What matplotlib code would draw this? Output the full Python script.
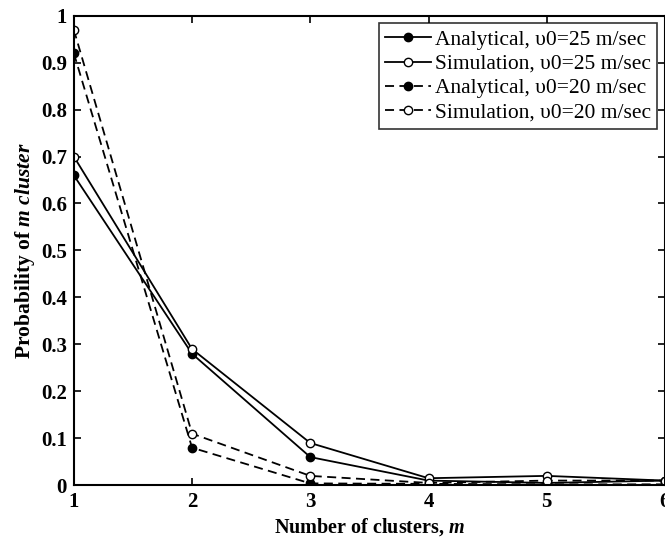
import matplotlib
matplotlib.use("Agg")
import matplotlib.pyplot as plt

plt.rcParams['font.family'] = ['Liberation Serif', 'DejaVu Serif']
plt.rcParams['mathtext.fontset'] = 'custom'
plt.rcParams['mathtext.rm'] = 'Liberation Serif:bold'
plt.rcParams['mathtext.it'] = 'Liberation Serif:italic:bold'

m = [1, 2, 3, 4, 5, 6]
analytical_25 = [0.66, 0.28, 0.06, 0.01, 0.005, 0.01]
simulation_25 = [0.70, 0.29, 0.09, 0.015, 0.02, 0.01]
analytical_20 = [0.92, 0.08, 0.004, 0.003, 0.002, 0.002]
simulation_20 = [0.97, 0.11, 0.02, 0.005, 0.01, 0.01]
labels = ["Analytical, \u03c50=25 m/sec", "Simulation, \u03c50=25 m/sec",
          "Analytical, \u03c50=20 m/sec", "Simulation, \u03c50=20 m/sec"]
xticks = [1, 2, 3, 4, 5, 6]
yticks = [0, 0.1, 0.2, 0.3, 0.4, 0.5, 0.6, 0.7, 0.8, 0.9, 1]
yticklabels = ["0", "0.1", "0.2", "0.3", "0.4", "0.5", "0.6", "0.7", "0.8", "0.9", "1"]

fig = plt.figure(figsize=(6.65, 5.38), dpi=100)
ax = fig.add_axes([0.111, 0.098, 0.889, 0.873])

ax.plot(m, analytical_25, '-', color='black', lw=1.3, marker='o', ms=6,
        mfc='black', mec='black', label=labels[0])
ax.plot(m, simulation_25, '-', color='black', lw=1.3, marker='o', ms=6,
        mfc='white', mec='black', label=labels[1])
ax.plot(m, analytical_20, '--', color='black', lw=1.3, marker='o', ms=6,
        mfc='black', mec='black', label=labels[2], dashes=(5, 3))
ax.plot(m, simulation_20, '--', color='black', lw=1.3, marker='o', ms=6,
        mfc='white', mec='black', label=labels[3], dashes=(5, 3))

ax.set_xlim(1, 6)
ax.set_ylim(0, 1)
ax.set_xticks(xticks)
ax.set_yticks(yticks)
ax.set_yticklabels(yticklabels)
ax.tick_params(direction='in', top=True, right=True, length=5, width=1.2,
               labelsize=15, pad=5)
for lab in ax.get_xticklabels() + ax.get_yticklabels():
    lab.set_fontweight('bold')
for s in ax.spines.values():
    s.set_linewidth(1.5)

ax.set_xlabel(r"Number of clusters, $\it{m}$", fontsize=14.5, fontweight='bold', labelpad=3)
ax.set_ylabel(r"Probability of $\it{m\ cluster}$", fontsize=15.5, fontweight='bold', labelpad=3)

leg = ax.legend(loc='upper right', fontsize=15.5, frameon=True, fancybox=False,
                edgecolor='black', handlelength=2.1, handletextpad=0.2,
                borderpad=0.3, labelspacing=0.2, borderaxespad=0.35)
leg.get_frame().set_linewidth(1.2)

fig.savefig("out.png", dpi=100)
